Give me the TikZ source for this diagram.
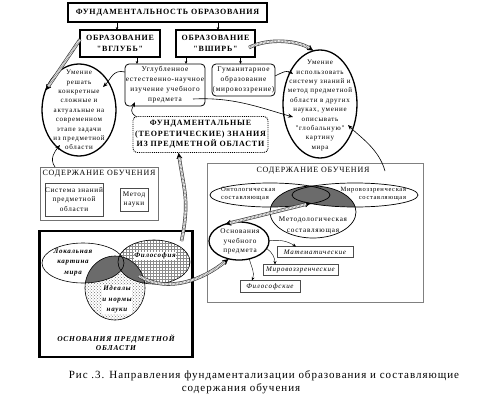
\documentclass[tikz,border=0pt]{standalone}
\usepackage{fontspec}
\setmainfont{Liberation Serif}
\newfontfamily\dtf[LetterSpace=10]{Liberation Serif}
\newfontfamily\capf[LetterSpace=9]{Liberation Serif}
\usetikzlibrary{arrows.meta,shapes.geometric,patterns,calc,shadows}
\tikzset{
  every node/.style={inner sep=0pt, outer sep=0pt},
  etxt/.style={align=center, font=\dtf\fontsize{7}{9.4}\selectfont},
  hbox/.style={draw, line width=2pt, fill=white, align=center, font=\dtf\bfseries\fontsize{8}{10.5}\selectfont},
  rbox/.style={draw, line width=0.8pt, rounded corners=4pt, fill=white, align=center, font=\dtf\fontsize{7.3}{10}\selectfont},
  oval/.style={ellipse, draw, line width=1.3pt, inner sep=0pt},
  sbox/.style={draw=black!70, line width=0.5pt, fill=white, drop shadow={shadow xshift=0.8pt, shadow yshift=-0.8pt, fill=black!60}, align=center},
  sarr/.style={-{Stealth[length=3pt,width=2.6pt]}, line width=0.5pt},
  carr/.style={-{Stealth[length=5pt,width=4pt]}, line width=0.6pt},
  tarr/.style={-{Stealth[length=3.5pt,width=3pt]}, line width=0.4pt},
  ribbon/.style={line width=3.4pt, draw=black!80, postaction={draw=white, line width=2.1pt}, postaction={draw=black!50, line width=2.1pt, dash pattern=on 0.5pt off 0.9pt}},
  rtip/.style={-{Latex[length=6pt,width=6pt]}, line width=0.5pt},
  dtip/.style={{Latex[length=6pt,width=6pt]}-{Latex[length=6pt,width=6pt]}, line width=0.5pt},
  vtxt/.style={align=center, font=\dtf\bfseries\itshape\fontsize{7}{10.5}\selectfont},
  itbox/.style={sbox, font=\dtf\itshape\fontsize{7}{9}\selectfont},
}
\begin{document}
\begin{tikzpicture}[x=1pt,y=-1pt]
\fill[white] (0,0) rectangle (483,408);
\useasboundingbox (0,0) rectangle (483,408);

% ---------- top part ----------
\node[hbox, line width=1.6pt, minimum width=199pt, minimum height=19pt] (top) at (167.5,12.5) {ФУНДАМЕНТАЛЬНОСТЬ ОБРАЗОВАНИЯ};
\node[hbox, minimum width=80pt, minimum height=27pt] (vglub) at (120,43.5) {ОБРАЗОВАНИЕ\\"ВГЛУБЬ"};
\node[hbox, minimum width=79pt, minimum height=27pt] (vshir) at (215.5,43.5) {ОБРАЗОВАНИЕ\\"ВШИРЬ"};

\node[rbox, minimum width=80pt, minimum height=42pt] (uglub) at (165,85) {Углубленное\\естественно-научное\\изучение учебного\\предмета};
\node[rbox, minimum width=63pt, minimum height=32pt] (gum) at (243.5,80) {Гуманитарное\\образование\\(мировоззрение)};

\node[oval, fill=white, minimum width=74pt, minimum height=92pt] (lell) at (79,110) {};
\node[etxt] (lellt) at (79,110) {Умение\\решать\\конкретные\\сложные и\\актуальные на\\современном\\этапе задачи\\из предметной\\области};

\node[oval, fill=white, minimum width=74pt, minimum height=108pt] (rell) at (320,104) {};
\node[etxt] (rellt) at (320,105.5) {Умение\\использовать\\систему знаний и\\метод предметной\\области в других\\науках, умение\\описывать\\"глобальную"\\картину\\мира};

\node[draw, densely dotted, line width=0.9pt, rounded corners=4pt, minimum width=135pt, minimum height=36pt, align=center, font=\dtf\bfseries\fontsize{8}{10.5}\selectfont] (fund) at (200.5,134.5) {ФУНДАМЕНТАЛЬНЫЕ\\(ТЕОРЕТИЧЕСКИЕ) ЗНАНИЯ\\ИЗ ПРЕДМЕТНОЙ ОБЛАСТИ};

% ---------- left content box ----------
\node[draw=black!55, line width=0.7pt, minimum width=118pt, minimum height=53pt] (lcont) at (99,193.5) {};
\node[font=\dtf\fontsize{8}{10}\selectfont] (lcontt) at (99,174) {СОДЕРЖАНИЕ ОБУЧЕНИЯ};
\node[sbox, minimum width=58pt, minimum height=33pt, font=\dtf\fontsize{7.2}{9.5}\selectfont] (sys) at (74,199.5) {Система знаний\\предметной\\области};
\node[sbox, minimum width=28pt, minimum height=23pt, font=\dtf\fontsize{7.2}{9.5}\selectfont] (met) at (134,199.5) {Метод\\науки};

% ---------- venn box ----------
\node[draw, line width=2.2pt, fill=white, minimum width=153pt, minimum height=126pt] (venn) at (116,294) {};
\fill[white] (83,263) ellipse [x radius=41pt, y radius=20pt];
\fill[white] (154,262) ellipse [x radius=36pt, y radius=22pt];
\path[pattern=grid, pattern color=black!45] (154,262) ellipse [x radius=36pt, y radius=22pt];
\fill[white] (115,288) ellipse [x radius=30pt, y radius=32pt];
\path[pattern=crosshatch dots, pattern color=black!55] (115,288) ellipse [x radius=30pt, y radius=32pt];
\begin{scope}
  \clip (115,288) ellipse [x radius=30pt, y radius=32pt];
  \fill[black!58] (83,263) ellipse [x radius=41pt, y radius=20pt];
  \fill[black!58] (154,262) ellipse [x radius=36pt, y radius=22pt];
\end{scope}
\begin{scope}
  \clip (83,263) ellipse [x radius=41pt, y radius=20pt];
  \fill[black!58] (154,262) ellipse [x radius=36pt, y radius=22pt];
\end{scope}
\node[ellipse, draw, line width=0.6pt, minimum width=82pt, minimum height=40pt] (loc) at (83,263) {};
\node[ellipse, draw, line width=0.6pt, minimum width=72pt, minimum height=44pt] (fil) at (154,262) {};
\node[ellipse, draw, line width=0.6pt, minimum width=60pt, minimum height=64pt] (ide) at (115,288) {};
\node[vtxt] (loct) at (73,262) {Локальная\\картина\\мира};
\node[vtxt, fill=white, inner sep=0.5pt] (filt) at (155,256) {Философия};
\node[vtxt, fill=white, inner sep=0.5pt] (idet) at (117,299.5) {Идеалы\\и нормы\\науки};
\node[vtxt, font=\dtf\bfseries\itshape\fontsize{7.5}{9.5}\selectfont] (osnlab) at (116,342.5) {ОСНОВАНИЯ ПРЕДМЕТНОЙ\\ОБЛАСТИ};

% ---------- right content box ----------
\node[draw=black!50, line width=0.7pt, minimum width=216pt, minimum height=139pt] (rcont) at (315,232.5) {};
\node[font=\dtf\fontsize{8}{10}\selectfont] (rcontt) at (313,171) {СОДЕРЖАНИЕ ОБУЧЕНИЯ};
\node[ellipse, fill=white, minimum width=120pt, minimum height=24pt] (onto) at (270,195) {};
\node[ellipse, fill=white, minimum width=126pt, minimum height=24pt] (mirov) at (355,195) {};
\node[ellipse, fill=white, minimum width=86pt, minimum height=52pt] (metod) at (313,212) {};
\begin{scope}
  \clip (313,212) ellipse [x radius=43pt, y radius=26pt];
  \fill[black!58] (270,195) ellipse [x radius=60pt, y radius=12pt];
  \fill[black!58] (355,195) ellipse [x radius=63pt, y radius=12pt];
\end{scope}
\draw[line width=0.7pt] (270,195) ellipse [x radius=60pt, y radius=12pt];
\draw[line width=0.7pt] (355,195) ellipse [x radius=63pt, y radius=12pt];
\draw[line width=0.7pt] (313,212) ellipse [x radius=43pt, y radius=26pt];
\node[anchor=west, align=left, font=\dtf\fontsize{6.6}{8.6}\selectfont] (ontot) at (221,194) {Онтологическая\\составляющая};
\node[anchor=east, align=right, font=\dtf\fontsize{6.5}{8.6}\selectfont] (mirovt) at (406,194) {Мировоззренческая\\составляющая};
\node[align=center, font=\dtf\fontsize{7.2}{10.5}\selectfont] (metodt) at (313,225.5) {Методологическая\\составляющая};
\node[oval, fill=white, minimum width=60pt, minimum height=38pt] (osn) at (239,241) {};
\node[align=center, font=\dtf\fontsize{7.2}{9.5}\selectfont] (osnt) at (240,241.5) {Основания\\учебного\\предмета};
\node[itbox, minimum width=76pt, minimum height=11pt] (matem) at (315,252) {Математические};
\node[itbox, minimum width=75pt, minimum height=11pt] (mirb) at (300.5,270) {Мировоззренческие};
\node[itbox, minimum width=60pt, minimum height=12pt] (filb) at (270,286.5) {Философские};

% ---------- small vertical arrows ----------
\coordinate (a1) at ($(vglub.north)+(-3,0)$);
\draw[sarr] (a1 |- top.south) -- (a1);
\coordinate (a2) at ($(vshir.north)+(2.5,0)$);
\draw[sarr] (a2 |- top.south) -- (a2);
\coordinate (a3) at ($(uglub.north west)+(12,0)$);
\draw[sarr] (a3 |- vglub.south) -- (a3);
\coordinate (a4) at ($(uglub.north east)+(-19,0)$);
\draw[sarr] (a4 |- vshir.south) -- (a4);
\coordinate (a5) at ($(gum.north)+(-3,0)$);
\draw[sarr] (a5 |- vshir.south) -- (a5);

% ---------- ribbons ----------
\draw[rtip] ($(vglub.west)+(0,-4)$) -- (lell.150);
\draw[ribbon, shorten >=5pt] ($(vglub.west)+(0,-4)$) -- (lell.150);

\draw[rtip] ($(vshir.east)+(-6,4)$) .. controls +(20,-10) and +(-15,-10) .. (rell.97);
\draw[ribbon, shorten >=5pt] ($(vshir.east)+(-6,4)$) .. controls +(20,-10) and +(-15,-10) .. (rell.97);

\draw[rtip] ($(venn.north east)+(-11,10)$) .. controls +(8,-40) and +(6,40) .. ($(fund.south)+(-22,0)$);
\draw[ribbon, shorten >=5pt] ($(venn.north east)+(-11,10)$) .. controls +(8,-40) and +(6,40) .. ($(fund.south)+(-22,0)$);

\draw[rtip] ($(ide.center)+(24,-12)$) .. controls +(30,18) and +(-25,20) .. (osn.240);
\draw[ribbon, shorten >=5pt] ($(ide.center)+(24,-12)$) .. controls +(30,18) and +(-25,20) .. (osn.240);

\draw[dtip] (osn.130) -- ($(metod.center)+(-2,-9)$);
\draw[ribbon, shorten >=5pt, shorten <=5pt] (osn.130) -- ($(metod.center)+(-2,-9)$);

% ---------- curved arrows ----------
\draw[carr] ($(uglub.west)+(0,-13)$) .. controls +(-12,-3) and +(8,-8) .. ($(lell.center)+(24,-23)$);
\draw[carr] ($(gum.east)+(0,-4)$) .. controls +(8,-4) and +(-6,-4) .. ($(rell.center)+(-27,-30)$);
\draw[carr] ($(uglub.south east)+(-12,-7)$) .. controls +(40,-2) and +(-35,-10) .. ($(rell.center)+(-27,13)$);
\draw[carr] ($(fund.north west)+(3,0)$) .. controls +(-7,-5) and +(-3,7) .. ($(uglub.south west)+(10,-4)$);
\draw[carr] ($(lcont.north west)+(15,0)$) .. controls +(-6,-8) and +(-5,6) .. ($(lell.center)+(-19,35)$);
\draw[carr] ($(rcont.north east)+(-38,8)$) .. controls +(-6,-22) and +(12,12) .. ($(rell.center)+(28,21)$);

\draw[tarr] ($(osn.east)+(-1,0)$) .. controls +(12,-2) and +(-8,-5) .. ($(matem.north west)+(19,0)$);
\draw[tarr] (osn.-15) .. controls +(6,4) and +(0,-6) .. ($(mirb.north west)+(12,0)$);
\draw[tarr] (osn.-60) .. controls +(2,8) and +(3,-8) .. ($(filb.north west)+(12,0)$);

% ---------- caption ----------
\node[font=\capf\fontsize{11}{13}\selectfont] (cap1) at (264,376) {Рис .3. Направления фундаментализации образования и составляющие};
\node[font=\capf\fontsize{11}{13}\selectfont] (cap2) at (241,389) {содержания обучения};
\end{tikzpicture}
\end{document}
